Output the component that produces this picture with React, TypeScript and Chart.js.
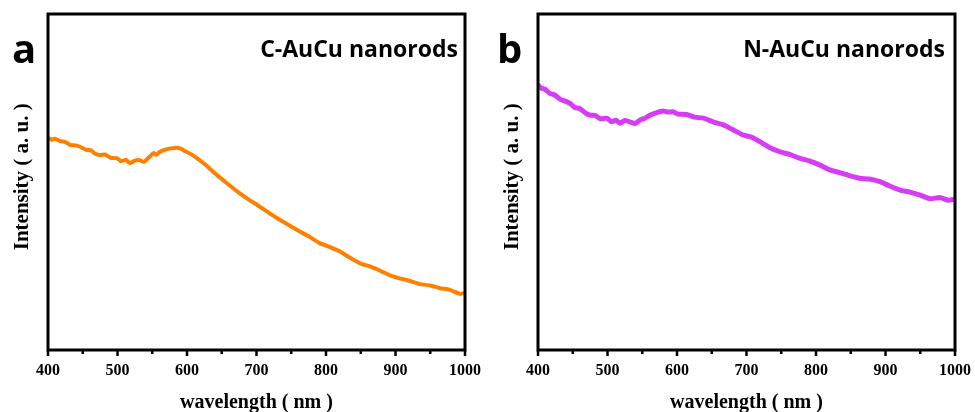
import React, { useEffect, useRef } from "react";
import { Chart, registerables } from "chart.js";

Chart.register(...registerables);

// ---- data ----
const cWavelength = [400, 405, 410, 417, 425, 432, 440, 446, 455, 462, 468, 475, 482, 490, 499, 505, 512, 518, 524, 532, 538, 546, 552, 556, 561, 570, 577, 584, 590, 599, 608, 618, 628, 637, 647, 657, 666, 676, 690, 705, 720, 734, 748, 763, 777, 791, 805, 820, 835, 849, 863, 878, 892, 906, 920, 935, 950, 964, 978, 993, 1000];
const cIntensity = [63.2, 62.6, 62.9, 62.2, 61.9, 61.0, 60.9, 60.5, 59.6, 59.4, 58.4, 58.0, 58.2, 57.2, 57.1, 56.2, 56.6, 55.6, 56.3, 56.5, 56.0, 57.5, 58.6, 58.1, 59.0, 59.7, 60.0, 60.2, 60.0, 59.0, 58.0, 56.5, 54.9, 53.1, 51.4, 49.7, 48.2, 46.6, 44.6, 42.6, 40.5, 38.7, 37.0, 35.2, 33.6, 31.8, 30.7, 29.3, 27.4, 25.8, 24.9, 23.6, 22.2, 21.3, 20.6, 19.6, 19.2, 18.4, 17.9, 16.7, 17.0];

const nWavelength = [400, 404, 410, 417, 424, 432, 440, 446, 453, 460, 468, 475, 482, 490, 499, 506, 512, 518, 525, 532, 540, 547, 554, 561, 570, 580, 587, 594, 602, 614, 625, 638, 652, 667, 680, 695, 707, 719, 733, 748, 762, 776, 790, 805, 820, 834, 848, 863, 877, 892, 906, 921, 935, 950, 964, 978, 990, 1000];
const nIntensity = [78.9, 78.0, 77.6, 76.4, 75.9, 74.6, 74.0, 73.4, 72.2, 71.9, 70.6, 69.9, 69.8, 68.8, 69.0, 67.9, 68.4, 67.5, 68.3, 67.9, 67.4, 68.5, 69.0, 69.9, 70.6, 71.1, 70.8, 70.9, 70.2, 70.1, 69.3, 69.0, 67.9, 67.0, 65.6, 64.0, 63.4, 62.0, 60.3, 59.0, 58.2, 57.1, 56.3, 55.1, 53.6, 52.8, 51.9, 51.1, 50.9, 50.1, 48.8, 47.6, 47.0, 46.1, 45.0, 45.4, 44.6, 44.9];

const xTicks = [400, 500, 600, 700, 800, 900, 1000];
const xMin = 400;
const xMax = 1000;

const panelLetters = ["a", "b"];
const panelLabels = ["C-AuCu nanorods", "N-AuCu nanorods"];
const xTitle = "wavelength ( nm )";
const yTitle = "  Intensity ( a. u. )";

const SERIF = "'Times New Roman', 'Liberation Serif', serif";
const SANS = "'Open Sans', 'Noto Sans', sans-serif";

type PanelProps = {
  xs: number[];
  ys: number[];
  color: string;
  lineWidth: number;
  letter: string;
  label: string;
  width: number;
  padRight: number;
  letterX: number;
  labelInset: number;
};

function Panel(props: PanelProps) {
  const ref = useRef<HTMLCanvasElement | null>(null);
  useEffect(() => {
    const canvas = ref.current;
    if (!canvas) return;
    const decor = {
      id: "decor",
      afterDraw(chart: any) {
        const { ctx, chartArea } = chart;
        const xs = chart.scales.x;
        ctx.save();
        // frame
        ctx.strokeStyle = "#000";
        ctx.lineWidth = 3;
        ctx.strokeRect(chartArea.left, chartArea.top, chartArea.right - chartArea.left, chartArea.bottom - chartArea.top);
        // ticks (major 100, minor 50)
        ctx.lineWidth = 2.5;
        for (let v = xMin; v <= xMax; v += 50) {
          const px = xs.getPixelForValue(v);
          const len = v % 100 === 0 ? 6 : 4;
          ctx.beginPath();
          ctx.moveTo(px, chartArea.bottom);
          ctx.lineTo(px, chartArea.bottom + len);
          ctx.stroke();
        }
        // panel letter
        ctx.fillStyle = "#000";
        ctx.textBaseline = "alphabetic";
        ctx.textAlign = "left";
        ctx.font = `bold 40px ${SANS}`;
        ctx.fillText(props.letter, props.letterX, 63);
        // label
        ctx.textAlign = "right";
        ctx.font = `bold 23px ${SANS}`;
        ctx.fillText(props.label, chartArea.right - props.labelInset, 57);
        ctx.restore();
      },
    };
    const chart = new Chart(canvas, {
      type: "line",
      data: {
        datasets: [
          {
            data: props.xs.map((x, i) => ({ x, y: props.ys[i] })),
            borderColor: props.color,
            borderWidth: props.lineWidth,
            pointRadius: 0,
            tension: 0.2,
            fill: false,
          },
        ],
      },
      options: {
        responsive: false,
        animation: false,
        devicePixelRatio: 1,
        layout: { padding: { left: 0, right: props.padRight, top: 14, bottom: 0 } },
        plugins: { legend: { display: false }, tooltip: { enabled: false } },
        scales: {
          x: {
            type: "linear",
            min: xMin,
            max: xMax,
            afterFit: (s: any) => {
              s.height = 62;
              s.paddingLeft = 0;
              s.paddingRight = 0;
            },
            afterBuildTicks: (s: any) => {
              s.ticks = xTicks.map((v) => ({ value: v }));
            },
            grid: { display: false, drawTicks: false },
            border: { display: false },
            ticks: {
              autoSkip: false,
              maxRotation: 0,
              padding: 11,
              color: "#000",
              callback: (v: any) => String(v),
              font: { family: SERIF, size: 16, weight: "bold" },
            },
            title: {
              display: true,
              text: xTitle,
              color: "#000",
              font: { family: SERIF, size: 20, weight: "bold", lineHeight: 1 },
              padding: { top: 0, bottom: -1 },
            },
          },
          y: {
            type: "linear",
            min: 0,
            max: 100,
            afterFit: (s: any) => {
              s.width = 48;
            },
            grid: { display: false, drawTicks: false },
            border: { display: false },
            ticks: { display: false },
            title: {
              display: true,
              text: yTitle,
              color: "#000",
              font: { family: SERIF, size: 21, weight: "bold", lineHeight: 1 },
              padding: { top: 12, bottom: 0 },
            },
          },
        },
      },
      plugins: [decor],
    } as any);
    return () => chart.destroy();
  }, []);
  return <canvas ref={ref} width={props.width} height={412} style={{ display: "block", width: props.width, height: 412 }} />;
}

export default function App() {
  return (
    <div style={{ position: "fixed", left: 0, top: 0, width: 975, height: 412, background: "#fff" }}>
      <div style={{ position: "absolute", left: 0, top: 0 }}>
        <Panel xs={cWavelength} ys={cIntensity} color="#FF8000" lineWidth={4} letter={panelLetters[0]} label={panelLabels[0]} width={487} padRight={22} letterX={12} labelInset={7} />
      </div>
      <div style={{ position: "absolute", left: 490, top: 0 }}>
        <Panel xs={nWavelength} ys={nIntensity} color="#D63CF5" lineWidth={5} letter={panelLetters[1]} label={panelLabels[1]} width={485} padRight={20} letterX={7} labelInset={10} />
      </div>
    </div>
  );
}
